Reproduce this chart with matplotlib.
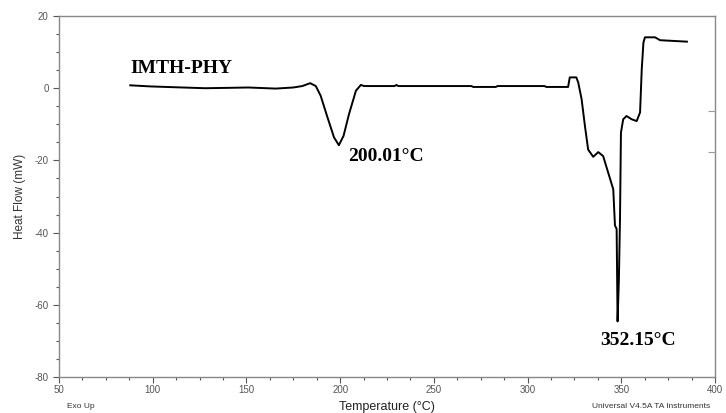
import matplotlib.pyplot as plt
from matplotlib.ticker import MultipleLocator

plt.rcParams['axes.unicode_minus'] = False

# DSC trace of IMTH-PHY (temperature in degC, heat flow in mW)
temp = [88, 98.7, 110, 128, 140, 151, 165.6, 175, 179.8, 184, 187,
        189.6, 193, 196.7, 199.3, 201.8, 204.7, 208.4, 211, 212.8,
        229, 230, 231, 270, 271, 283, 284, 309, 310, 321.6,
        322.5, 326, 327, 328.8, 330.6, 332.3, 335, 337.7, 340.3, 343,
        345.7, 346.6, 347.5, 348, 348.7, 349.3, 349.8, 351, 352.8, 355.5,
        358.2, 360, 360.9, 361.8, 362.6, 368, 370.7, 385]
heat_flow = [0.8, 0.5, 0.3, 0.0, 0.1, 0.2, -0.1, 0.2, 0.6, 1.4, 0.6,
             -2.1, -7.7, -13.6, -15.8, -13.2, -7.2, -0.7, 0.9, 0.6,
             0.6, 0.9, 0.6, 0.6, 0.35, 0.35, 0.6, 0.6, 0.35, 0.35,
             3.0, 3.0, 1.6, -3.0, -10.5, -17.0, -19.0, -17.7, -18.8, -23.4,
             -28.0, -38.0, -39.0, -64.6, -53.0, -36.0, -12.3, -8.6, -7.7, -8.6,
             -9.1, -6.7, 5.3, 12.7, 14.1, 14.1, 13.3, 12.9]

peak_temps = [200.01, 352.15]
peak_labels = ['200.01°C', '352.15°C']
sample_name = 'IMTH-PHY'

gray = '#555555'

fig = plt.figure(figsize=(7.26, 4.13), dpi=100)
ax = fig.add_axes([0.0813, 0.0872, 0.9036, 0.874])

ax.plot(temp, heat_flow, color='black', lw=1.4)

ax.set_xlim(50, 400)
ax.set_ylim(-80, 20)
ax.xaxis.set_major_locator(MultipleLocator(50))
ax.xaxis.set_minor_locator(MultipleLocator(12.5))
ax.yaxis.set_major_locator(MultipleLocator(20))
ax.yaxis.set_minor_locator(MultipleLocator(5))
ax.tick_params(which='both', direction='out', colors=gray, labelsize=7,
               width=0.8)
ax.tick_params(which='major', length=4)
ax.tick_params(which='minor', length=2.5)
ax.tick_params(axis='x', pad=2)
for s in ax.spines.values():
    s.set_color('#888888')
    s.set_linewidth(1.0)

for lab in ax.get_xticklabels() + ax.get_yticklabels():
    lab.set_family('Liberation Sans')

ax.set_ylabel('Heat Flow (mW)', family='Liberation Sans', fontsize=8.5,
              color='#333333', labelpad=6)
ax.set_xlabel('Temperature (°C)', family='Liberation Sans', fontsize=9,
              color='#222222', labelpad=4)

# instrument footer
fig.text(0.092, 0.012, 'Exo Up', family='Liberation Sans', fontsize=6,
         color='#333333')
fig.text(0.978, 0.012, 'Universal V4.5A TA Instruments',
         family='Liberation Sans', fontsize=6, color='#333333', ha='right')

# right-hand marker ticks
ax2 = ax.twinx()
ax2.set_ylim(-80, 20)
ax2.set_yticks([-6.4, -17.8])
ax2.set_yticklabels([])
ax2.tick_params(axis='y', direction='in', length=5, colors='#999999')
ax2.spines[:].set_visible(False)

serif = dict(family='Liberation Serif', fontweight='bold', fontsize=14)
ax.text(88, 5.5, sample_name, ha='left', va='center', **serif)
ax.text(peak_temps[0] + 4, -19, peak_labels[0], ha='left', va='center', **serif)
ax.text(peak_temps[1] + 7, -70, peak_labels[1], ha='center', va='center', **serif)

fig.savefig('out.png', dpi=100)
